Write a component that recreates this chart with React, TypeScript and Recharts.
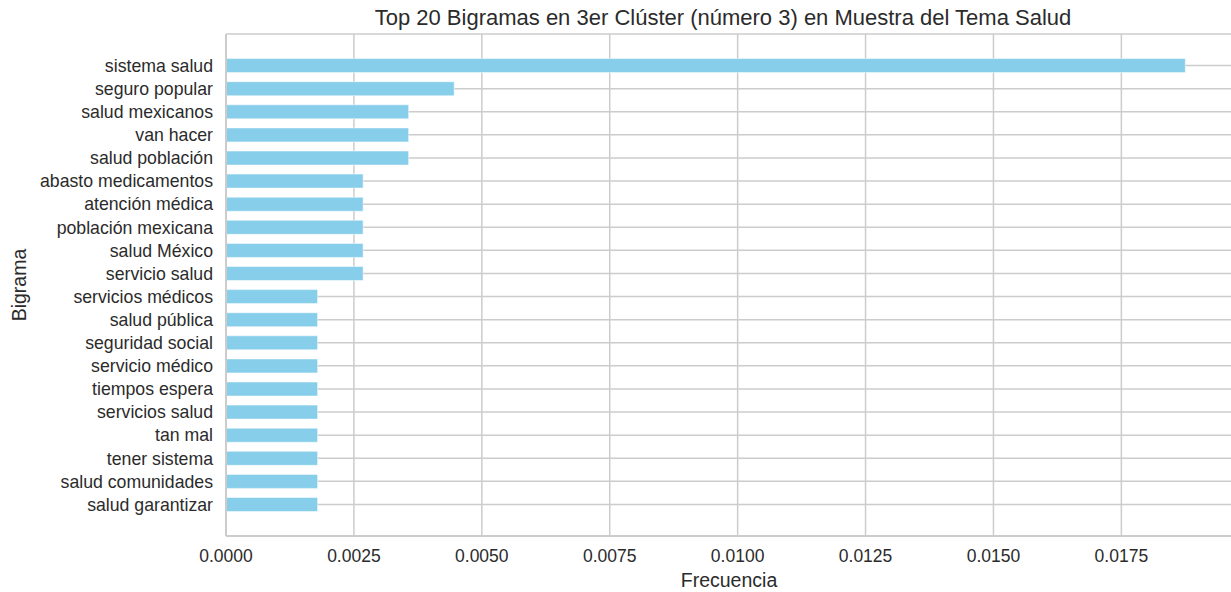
import React from 'react';
import { BarChart, Bar, XAxis, YAxis, CartesianGrid, Label } from 'recharts';

// bigram labels, top to bottom
const bigramas = [
  'sistema salud',
  'seguro popular',
  'salud mexicanos',
  'van hacer',
  'salud población',
  'abasto medicamentos',
  'atención médica',
  'población mexicana',
  'salud México',
  'servicio salud',
  'servicios médicos',
  'salud pública',
  'seguridad social',
  'servicio médico',
  'tiempos espera',
  'servicios salud',
  'tan mal',
  'tener sistema',
  'salud comunidades',
  'salud garantizar',
];

// relative frequency of each bigram
const frecuencias = [
  0.01875, 0.00446, 0.00357, 0.00357, 0.00357, 0.00268, 0.00268, 0.00268, 0.00268, 0.00268,
  0.00179, 0.00179, 0.00179, 0.00179, 0.00179, 0.00179, 0.00179, 0.00179, 0.00179, 0.00179,
];

const xTicks = [0, 0.0025, 0.005, 0.0075, 0.01, 0.0125, 0.015, 0.0175];

const data = bigramas.map((b, i) => ({ bigrama: b, frecuencia: frecuencias[i] }));

const font = '"Liberation Sans", Arial, sans-serif';
const textColor = '#2b2b2b';
const gridColor = '#cccccc';
// plot runs a little past the right edge of the picture, like the reference
const xMax = 0.01976;

export default function App() {
  return (
    <div style={{ position: 'absolute', left: 0, top: 0, width: 1231, height: 592, background: '#fff', fontFamily: font, overflow: 'hidden' }}>
      <BarChart
        width={1237}
        height={592}
        data={data}
        layout="vertical"
        margin={{ top: 34, right: 0, bottom: 0, left: 0 }}
        barCategoryGap="20%"
      >
        <text x={723} y={25} textAnchor="middle" fontSize={22} fill={textColor} fontFamily={font}>
          Top 20 Bigramas en 3er Clúster (número 3) en Muestra del Tema Salud
        </text>
        <CartesianGrid stroke={gridColor} strokeWidth={1.5} />
        <XAxis
          type="number"
          dataKey="frecuencia"
          domain={[0, xMax]}
          ticks={xTicks}
          tickFormatter={(v: number) => v.toFixed(4)}
          allowDataOverflow
          height={56}
          tickSize={0}
          tickMargin={14}
          tickLine={false}
          axisLine={{ stroke: gridColor, strokeWidth: 2 }}
          tick={{ fill: textColor, fontSize: 17.5, fontFamily: font }}
        >
          <Label
            content={() => (
              <text x={729} y={587} textAnchor="middle" fontSize={19.5} fill={textColor} fontFamily={font}>
                Frecuencia
              </text>
            )}
          />
        </XAxis>
        <XAxis
          xAxisId="top"
          orientation="top"
          type="number"
          domain={[0, xMax]}
          allowDataOverflow
          height={0}
          tick={false}
          tickLine={false}
          axisLine={{ stroke: gridColor, strokeWidth: 2 }}
        />
        <YAxis
          type="category"
          dataKey="bigrama"
          width={226}
          interval={0}
          tickSize={0}
          tickMargin={13}
          tickLine={false}
          padding={{ top: 20, bottom: 20 }}
          axisLine={{ stroke: gridColor, strokeWidth: 2 }}
          tick={{ fill: textColor, fontSize: 17.7, fontFamily: font }}
        >
          <Label
            content={({ viewBox }: any) => (
              <text
                x={26}
                y={viewBox.y + viewBox.height / 2}
                transform={`rotate(-90, 26, ${viewBox.y + viewBox.height / 2})`}
                textAnchor="middle"
                fontSize={19.5}
                fill={textColor}
                fontFamily={font}
              >
                Bigrama
              </text>
            )}
          />
        </YAxis>
        <Bar dataKey="frecuencia" fill="#87ceeb" stroke="#ffffff" strokeWidth={0.5} isAnimationActive={false} />
      </BarChart>
    </div>
  );
}
